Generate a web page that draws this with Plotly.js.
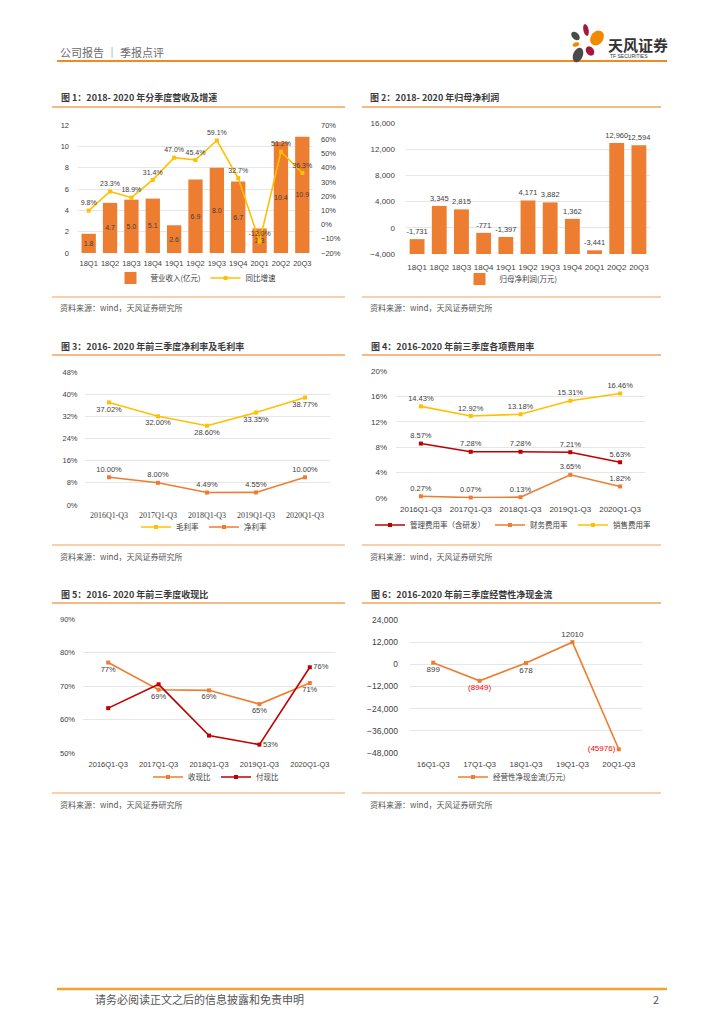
<!DOCTYPE html>
<html>
<head>
<meta charset="utf-8">
<script src="https://cdn.plot.ly/plotly-3.0.1.min.js"></script>
<style>
html,body{margin:0;padding:0;background:#fff;}
#page{width:724px;height:1024px;}
</style>
</head>
<body>
<div id="page"></div>
<script>
// ---------- DATA ----------
const quarters = ['18Q1','18Q2','18Q3','18Q4','19Q1','19Q2','19Q3','19Q4','20Q1','20Q2','20Q3'];
const revenue = [1.8, 4.7, 5.0, 5.1, 2.6, 6.9, 8.0, 6.7, 2.3, 10.4, 10.9];      // 亿元
const revenueGrowth = [9.8, 23.3, 18.9, 31.4, 47.0, 45.4, 59.1, 32.7, -12.0, 51.2, 36.3]; // %
const netProfit = [-1731, 3345, 2815, -771, -1397, 4171, 3882, 1362, -3441, 12960, 12594]; // 万元
const periods = ['2016Q1-Q3','2017Q1-Q3','2018Q1-Q3','2019Q1-Q3','2020Q1-Q3'];
const grossMargin = [37.02, 32.00, 28.60, 33.35, 38.77];
const netMargin = [10.00, 8.00, 4.49, 4.55, 10.00];
const adminRate = [8.57, 7.28, 7.28, 7.21, 5.63];
const financeRate = [0.27, 0.07, 0.13, 3.65, 1.82];
const salesRate = [14.43, 12.92, 13.18, 15.31, 16.46];
const cashInRatio = [77.0, 68.9, 68.7, 64.6, 70.9];
const cashOutRatio = [63.4, 70.5, 55.2, 52.5, 75.6];
const cfPeriods = ['16Q1-Q3','17Q1-Q3','18Q1-Q3','19Q1-Q3','20Q1-Q3'];
const opCashFlow = [899, -8949, 678, 12010, -45976]; // 万元

// ---------- HELPERS ----------
const W = 724, H = 1024;
const X = p => p / W;
const Y = p => 1 - p / H;
const SANS = 'Liberation Sans, Arial, Noto Sans CJK SC, sans-serif';
const CJK = 'Noto Sans CJK SC, Liberation Sans, sans-serif';
const SERIF = 'Liberation Serif, Times New Roman, Noto Sans CJK SC, serif';
const TXT = '#404040';
const ORANGE = '#ED7D31', GOLD = '#FFC000', RED = '#C00000';
const GRID = '#E6E6E6';

function xAx(l, r, n, standoff, font) {
  return {domain:[X(l), X(r)], type:'category', range:[-0.5, n-0.5], showgrid:false, zeroline:false,
    showline:false, ticks:'', ticklabelstandoff:standoff, tickfont:font, fixedrange:true};
}
function yAx(t, b, range, dtick, standoff, font, extra) {
  return Object.assign({domain:[Y(b), Y(t)], range:range, dtick:dtick, showgrid:true, gridcolor:GRID,
    gridwidth:1, zeroline:false, showline:false, ticks:'', ticklabelstandoff:standoff, tickfont:font,
    fixedrange:true}, extra||{});
}
function f(size, color, family){ return {size:size, color:color||TXT, family:family||SANS}; }

// ---------- TRACES ----------
const traces = [];
// Chart 1
traces.push({type:'bar', x:quarters, y:revenue, xaxis:'x', yaxis:'y', name:'营业收入(亿元)',
  marker:{color:ORANGE}, text:revenue.map(v=>v.toFixed(1)), textposition:'inside', textangle:0,
  insidetextanchor:'middle', constraintext:'none', textfont:f(7,TXT), legend:'legend', cliponaxis:false});
traces.push({type:'scatter', mode:'lines+markers+text', x:quarters, y:revenueGrowth, xaxis:'x', yaxis:'y2',
  name:'同比增速', line:{color:GOLD, width:1.6}, marker:{color:GOLD, size:4, symbol:'square'},
  text:revenueGrowth.map(v=>v.toFixed(1)+'%'), textposition:'top center', textfont:f(7,TXT),
  legend:'legend', cliponaxis:false});
// Chart 2
traces.push({type:'bar', x:quarters, y:netProfit.map(v=>v-(-4000)), base:-4000, xaxis:'x2', yaxis:'y3',
  name:'归母净利润(万元)', marker:{color:ORANGE},
  text:netProfit.map(v=>v.toLocaleString('en-US')), textposition:'outside', textangle:0, constraintext:'none',
  textfont:f(7.5,TXT), legend:'legend2', cliponaxis:false});
// Chart 3
traces.push({type:'scatter', mode:'lines+markers+text', x:periods, y:grossMargin, xaxis:'x3', yaxis:'y4',
  name:'毛利率', line:{color:GOLD, width:1.6}, marker:{color:GOLD, size:4, symbol:'square'},
  text:grossMargin.map(v=>v.toFixed(2)+'%'), textposition:'bottom center', textfont:f(7.5,TXT),
  legend:'legend3', cliponaxis:false});
traces.push({type:'scatter', mode:'lines+markers+text', x:periods, y:netMargin, xaxis:'x3', yaxis:'y4',
  name:'净利率', line:{color:ORANGE, width:1.6}, marker:{color:ORANGE, size:4, symbol:'square'},
  text:netMargin.map(v=>v.toFixed(2)+'%'), textposition:'top center', textfont:f(7.5,TXT),
  legend:'legend3', cliponaxis:false});
// Chart 4
traces.push({type:'scatter', mode:'lines+markers+text', x:periods, y:adminRate, xaxis:'x4', yaxis:'y5',
  name:'管理费用率（含研发）', line:{color:RED, width:1.6}, marker:{color:RED, size:4, symbol:'square'},
  text:adminRate.map(v=>v.toFixed(2)+'%'), textposition:'top center', textfont:f(7.5,TXT),
  legend:'legend4', cliponaxis:false});
traces.push({type:'scatter', mode:'lines+markers+text', x:periods, y:financeRate, xaxis:'x4', yaxis:'y5',
  name:'财务费用率', line:{color:ORANGE, width:1.6}, marker:{color:ORANGE, size:4, symbol:'square'},
  text:financeRate.map(v=>v.toFixed(2)+'%'), textposition:'top center', textfont:f(7.5,TXT),
  legend:'legend4', cliponaxis:false});
traces.push({type:'scatter', mode:'lines+markers+text', x:periods, y:salesRate, xaxis:'x4', yaxis:'y5',
  name:'销售费用率', line:{color:GOLD, width:1.6}, marker:{color:GOLD, size:4, symbol:'square'},
  text:salesRate.map(v=>v.toFixed(2)+'%'), textposition:'top center', textfont:f(7.5,TXT),
  legend:'legend4', cliponaxis:false});
// Chart 5
traces.push({type:'scatter', mode:'lines+markers+text', x:periods, y:cashInRatio, xaxis:'x5', yaxis:'y6',
  name:'收现比', line:{color:ORANGE, width:1.6}, marker:{color:ORANGE, size:4, symbol:'square'},
  text:cashInRatio.map(v=>Math.round(v)+'%'), textposition:'bottom center', textfont:f(7.5,TXT),
  legend:'legend5', cliponaxis:false});
traces.push({type:'scatter', mode:'lines+markers+text', x:periods, y:cashOutRatio, xaxis:'x5', yaxis:'y6',
  name:'付现比', line:{color:RED, width:1.6}, marker:{color:RED, size:4, symbol:'square'},
  text:cashOutRatio.map((v,i)=> i>=3 ? Math.round(v)+'%' : ''), textposition:'middle right',
  textfont:f(7.5,TXT), legend:'legend5', cliponaxis:false});
// Chart 6
traces.push({type:'scatter', mode:'lines+markers+text', x:cfPeriods, y:opCashFlow, xaxis:'x6', yaxis:'y7',
  name:'经营性净现金流(万元)', line:{color:ORANGE, width:1.6}, marker:{color:ORANGE, size:4, symbol:'square'},
  text:opCashFlow.map(v=> v<0 ? '('+(-v)+')' : String(v)),
  textposition:['bottom center','bottom center','bottom center','top center','middle left'],
  textfont:{size:8, family:SANS, color:opCashFlow.map(v=> v<0 ? '#FF0000' : TXT)},
  legend:'legend6', cliponaxis:false});

// ---------- LAYOUT ----------
const shapes = [];
const annotations = [];
function hline(x0, x1, y, color, width){
  shapes.push({type:'line', xref:'paper', yref:'paper', x0:X(x0), x1:X(x1), y0:Y(y), y1:Y(y),
    line:{color:color, width:width}});
}
function txt(x, y, s, size, color, opts){
  annotations.push(Object.assign({xref:'paper', yref:'paper', x:X(x), y:Y(y), text:s, showarrow:false,
    xanchor:'left', yanchor:'middle', font:{size:size, color:color, family:CJK}}, opts||{}));
}
function ell(cx, cy, rx, ry, deg, color){
  const a = deg*Math.PI/180; let p = '';
  for(let i=0;i<36;i++){
    const t = i/36*2*Math.PI;
    const px = cx + rx*Math.cos(t)*Math.cos(a) - ry*Math.sin(t)*Math.sin(a);
    const py = cy + rx*Math.cos(t)*Math.sin(a) + ry*Math.sin(t)*Math.cos(a);
    p += (i===0?'M':'L') + X(px).toFixed(5) + ',' + Y(py).toFixed(5) + ' ';
  }
  shapes.push({type:'path', xref:'paper', yref:'paper', path:p+'Z', fillcolor:color, line:{width:0}});
}

// header
txt(58, 52, '公司报告 ｜ 季报点评', 11, '#6B6B6B');
hline(57, 667, 61, '#F08A24', 2);
ell(586, 30, 2.6, 6, -12, '#A3193C');
ell(575.5, 36, 3.3, 5, -45, '#4A4A4A');
ell(576, 44.5, 3.4, 2.2, -20, '#F08A00');
ell(597, 38, 6.2, 8, 35, '#F08A00');
ell(590, 51, 3.8, 5, -35, '#A3193C');
ell(578, 55, 4.8, 7.5, 22, '#4A4A4A');
txt(606, 44, '<b>天风证券</b>', 15, '#333333');
txt(608, 56, 'TF SECURITIES', 5, '#333333', {font:{size:5, color:'#333', family:SANS}});

// chart frames
const TCOL = '#F5A05A';
const titles = [
  [59, 97, '图 1：2018- 2020 年分季度营收及增速'],
  [368, 97, '图 2：2018- 2020 年归母净利润'],
  [59, 346, '图 3：2016- 2020 年前三季度净利率及毛利率'],
  [369, 346, '图 4：2016-2020 年前三季度各项费用率'],
  [59, 594, '图 5：2016- 2020 年前三季度收现比'],
  [369, 594, '图 6：2016-2020 年前三季度经营性净现金流']
];
titles.forEach(t => txt(t[0], t[1], '<b>'+t[2]+'</b>', 9, '#3A3A3A'));
[[107,297,307],[355,545,556],[603,793,804]].forEach(r => {
  hline(52, 345, r[0], TCOL, 1.3); hline(362, 661, r[0], TCOL, 1.3);
  hline(52, 345, r[1], TCOL, 1.1); hline(362, 661, r[1], TCOL, 1.1);
  txt(58, r[2], '资料来源：wind，天风证券研究所', 8, '#555555');
  txt(368, r[2], '资料来源：wind，天风证券研究所', 8, '#555555');
});

// footer
hline(57, 667, 989, '#F2A22E', 2.5);
txt(93, 999, '请务必阅读正文之后的信息披露和免责申明', 11, '#555555');
txt(661, 999, '2', 11, '#555555', {xanchor:'right'});

function leg(cx, cy){
  return {orientation:'h', x:X(cx), y:Y(cy), xanchor:'center', yanchor:'middle', xref:'paper', yref:'paper',
    font:{size:7.5, color:TXT, family:CJK}, bgcolor:'rgba(0,0,0,0)', itemwidth:30, tracegroupgap:0,
    itemclick:false, itemdoubleclick:false};
}

const layout = {
  width:W, height:H, margin:{l:0, r:0, t:0, b:0}, paper_bgcolor:'#fff', plot_bgcolor:'rgba(0,0,0,0)',
  showlegend:true, hovermode:false, bargap:0.33, font:{family:SANS, color:TXT},
  // chart 1
  xaxis: Object.assign(xAx(78, 313, 11, 4, f(7.5)), {anchor:'y'}),
  yaxis: Object.assign(yAx(125, 253, [0,12], 2, 8, f(7.5)), {anchor:'x'}),
  yaxis2: {overlaying:'y', side:'right', anchor:'x', range:[-20,70], dtick:10, ticksuffix:'%', showgrid:false,
    zeroline:false, showline:false, ticks:'', ticklabelstandoff:7, tickfont:f(7.5), fixedrange:true},
  // chart 2
  xaxis2: Object.assign(xAx(406, 650, 11, 7, f(8)), {anchor:'y3'}),
  yaxis3: Object.assign(yAx(123, 254, [-4000,16000], 4000, 10, f(8), {tickformat:',d'}), {anchor:'x2'}),
  // chart 3
  xaxis3: Object.assign(xAx(84.5, 329.5, 5, 4, f(8, TXT, SERIF)), {anchor:'y4'}),
  yaxis4: Object.assign(yAx(372, 505, [0,48], 8, 6, f(7.5), {ticksuffix:'%'}), {anchor:'x3'}),
  // chart 4
  xaxis4: Object.assign(xAx(396, 645, 5, 5, f(8)), {anchor:'y5'}),
  yaxis5: Object.assign(yAx(371, 498, [0,20], 4, 8, f(8), {ticksuffix:'%'}), {anchor:'x4'}),
  // chart 5
  xaxis5: Object.assign(xAx(83, 335, 5, 5, f(7.5)), {anchor:'y6'}),
  yaxis6: Object.assign(yAx(619, 753, [50,90], 10, 7, f(7.5), {ticksuffix:'%'}), {anchor:'x5'}),
  // chart 6
  xaxis6: Object.assign(xAx(410, 642, 5, 5, f(8)), {anchor:'y7'}),
  yaxis7: Object.assign(yAx(620, 753, [-48000,24000], 12000, 11, f(8.5), {tickformat:',d'}), {anchor:'x6'}),
  legend: leg(196, 278),
  legend2: leg(511, 279),
  legend3: leg(204, 527),
  legend4: leg(513, 525),
  legend5: leg(216, 777),
  legend6: leg(512, 777),
  shapes: shapes,
  annotations: annotations
};

Plotly.newPlot('page', traces, layout, {staticPlot:true, displayModeBar:false});
</script>
</body>
</html>
